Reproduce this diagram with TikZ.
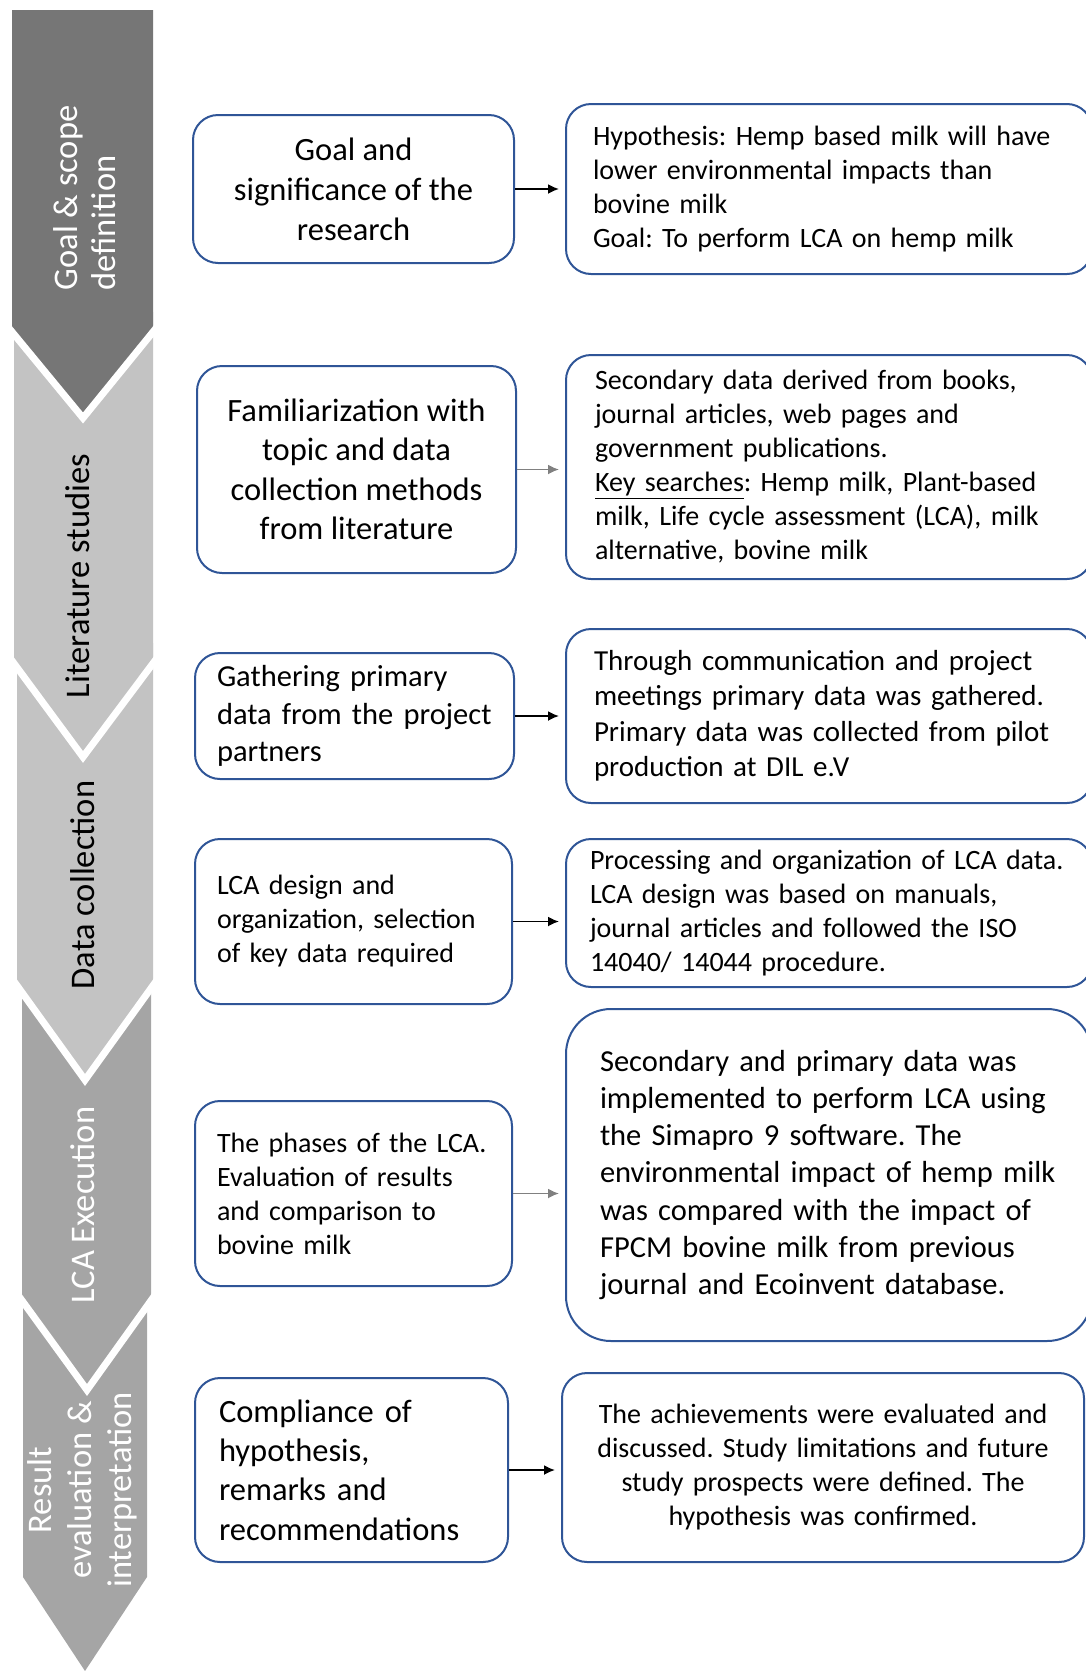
\documentclass[tikz,border=0pt]{standalone}
\usepackage{fontspec}
\setmainfont{Carlito}
\usepackage{tikz}
\usetikzlibrary{arrows,arrows.meta}
\frenchspacing

\definecolor{boxblue}{RGB}{47,85,151}
\definecolor{darkphase}{RGB}{118,118,118}
\definecolor{lightphase}{RGB}{195,195,195}
\definecolor{midphase}{RGB}{165,165,165}
\definecolor{arrowgray}{RGB}{128,128,128}

\begin{document}
\begin{tikzpicture}[x=1pt,y=-1pt,>={Latex[length=11pt,width=10pt]},
	box node/.style={draw=boxblue,line width=2pt,rounded corners=25pt,
		fill=white,inner ysep=0pt},
	big text/.style={font=\fontsize{32.5}{40}\selectfont},
	mid text/.style={font=\fontsize{30.5}{37.3}\selectfont},
	small text/.style={font=\fontsize{28}{34}\selectfont},
	phase text/.style={rotate=90,font=\fontsize{34.5}{38}\selectfont}]

	\useasboundingbox (0,0) rectangle (1086,1671);

	% phase chevrons, drawn from the bottom up
	\fill[midphase] (23,1280) -- (147,1280) -- (147,1577) -- (85,1671) -- (23,1577) -- cycle;
	\fill[midphase] (22,965) -- (151,965) -- (151,1300) -- (87,1390) -- (22,1300) -- cycle;
	\draw[white,line width=7pt] (18,1295) -- (87,1390) -- (155,1295);
	\fill[lightphase] (17,643) -- (153,643) -- (153,985) -- (85,1080) -- (17,985) -- cycle;
	\draw[white,line width=7pt] (13,980) -- (85,1080) -- (157,980);
	\fill[lightphase] (14,312) -- (153,312) -- (153,663) -- (83,757) -- (14,663) -- cycle;
	\draw[white,line width=7pt] (10,658) -- (83,757) -- (157,658);
	\fill[darkphase] (12,10) -- (153,10) -- (153,332) -- (83,418) -- (12,332) -- cycle;
	\draw[white,line width=7pt] (8,327) -- (83,418) -- (157,327);

	\node[phase text,align=left,text=white] (goal) at (85,198) {Goal \& scope\\definition};
	\node[phase text,text=black] (lit) at (78,576) {Literature studies};
	\node[phase text,text=black] (data) at (83,885) {Data collection};
	\node[phase text,text=white] (exec) at (83,1205) {LCA Execution};
	\node[phase text,align=center,text=white,font=\fontsize{34.5}{40}\selectfont] (result) at (82,1490)
		{Result\\evaluation \&\\interpretation};

	% left column
	\node[box node,big text,align=center,minimum width=321pt,minimum height=148pt] (L1) at (353.5,189)
		{Goal and\\significance of the\\research};
	\node[box node,big text,font=\fontsize{32.5}{39.4}\selectfont,align=center,minimum width=319pt,minimum height=207pt] (L2) at (356.5,469.5)
		{Familiarization with\\topic and data\\collection methods\\from literature};
	\node[box node,mid text,align=left,text width=275pt,inner xsep=22pt,minimum height=126pt] (L3) at (354.5,716)
		{Gathering primary\\data from the project\\partners};
	\node[box node,small text,align=left,text width=273pt,inner xsep=22pt,minimum height=165pt] (L4) at (353.5,921.5)
		{LCA design and\\organization, selection\\of key data required};
	\node[box node,small text,align=left,text width=273pt,inner xsep=22pt,minimum height=185pt] (L5) at (353.5,1193.5)
		{The phases of the LCA.\\Evaluation of results\\and comparison to\\bovine milk};
	\node[box node,font=\fontsize{32.5}{39.4}\selectfont,align=left,text width=265pt,inner xsep=24pt,minimum height=184pt] (L6) at (351.5,1470)
		{Compliance of\\hypothesis,\\remarks and\\recommendations};

	% right column
	\node[box node,small text,align=left,text width=472pt,inner xsep=27pt,minimum height=170pt] (R1) at (829,189)
		{Hypothesis: Hemp based milk will have\\lower environmental impacts than\\bovine milk\\Goal: To perform LCA on hemp milk};
	\node[box node,small text,align=left,text width=468pt,inner xsep=29pt,minimum height=224pt] (R2) at (829,467)
		{Secondary data derived from books,\\journal articles, web pages and\\government publications.\\\underline{Key searches}: Hemp milk, Plant-based\\milk, Life cycle assessment (LCA), milk\\alternative, bovine milk};
	\node[box node,font=\fontsize{29}{35.5}\selectfont,align=left,text width=470pt,inner xsep=28pt,minimum height=174pt] (R3) at (829,716)
		{Through communication and project\\meetings primary data was gathered.\\Primary data was collected from pilot\\production at DIL e.V};
	\node[box node,small text,align=left,text width=478pt,inner xsep=24pt,minimum height=148pt] (R4) at (829,913)
		{Processing and organization of LCA data.\\LCA design was based on manuals,\\journal articles and followed the ISO\\14040/ 14044 procedure.};
	\node[box node,mid text,align=left,rounded corners=45pt,text width=458pt,inner xsep=34pt,minimum height=332pt] (R5) at (829,1175)
		{Secondary and primary data was\\implemented to perform LCA using\\the Simapro 9 software. The\\environmental impact of hemp milk\\was compared with the impact of\\FPCM bovine milk from previous\\journal and Ecoinvent database.};
	\node[box node,small text,align=center,text width=470pt,inner xsep=26pt,minimum height=189pt] (R6) at (823,1467.5)
		{The achievements were evaluated and\\discussed. Study limitations and future\\study prospects were defined. The\\hypothesis was confirmed.};

	\path[->,line width=1.8pt,shorten >=6pt]
	(L1) edge (L1 -| R1.west)
	(L2) edge[arrowgray] (L2 -| R2.west)
	(L3) edge (L3 -| R3.west)
	(L4) edge (L4 -| R4.west)
	(L5) edge[arrowgray] (L5 -| R5.west)
	(L6) edge (L6 -| R6.west);
\end{tikzpicture}
\end{document}
